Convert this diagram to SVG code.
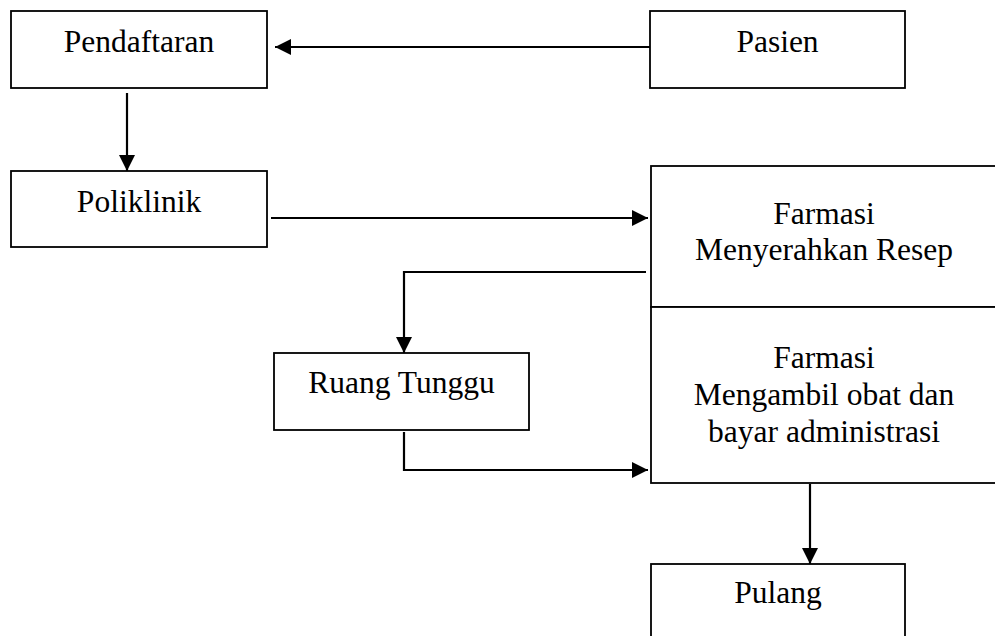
<svg xmlns="http://www.w3.org/2000/svg" width="995" height="636" viewBox="0 0 995 636">
<style>
.box{fill:#fff;stroke:#000;stroke-width:1.8}
.lbl{font-family:"Liberation Serif","Times New Roman",serif;font-size:31.5px;fill:#000;text-anchor:middle}
.con{fill:none;stroke:#000;stroke-width:2.2}
</style>
<defs>
<marker id="ah" viewBox="0 0 16 16" refX="16" refY="8" markerWidth="16" markerHeight="16" markerUnits="userSpaceOnUse" orient="auto">
<path d="M0,0 L16,8 L0,16 Z" fill="#000"/>
</marker>
</defs>
<rect width="995" height="636" fill="#fff"/>
<g id="connectors">
<path class="con" d="M650,47 L275,47" marker-end="url(#ah)"/>
<path class="con" d="M127,93 L127,171" marker-end="url(#ah)"/>
<path class="con" d="M271,218 L648,218" marker-end="url(#ah)"/>
<path class="con" d="M646,272 L404,272 L404,353" marker-end="url(#ah)"/>
<path class="con" d="M404,432 L404,470 L648,470" marker-end="url(#ah)"/>
<path class="con" d="M810,484 L810,564" marker-end="url(#ah)"/>
</g>
<g id="pendaftaran">
<rect class="box" x="11" y="11" width="256" height="77"/>
<text class="lbl" x="139" y="52">Pendaftaran</text>
</g>
<g id="pasien">
<rect class="box" x="650" y="11" width="255" height="77"/>
<text class="lbl" x="777.5" y="52">Pasien</text>
</g>
<g id="poliklinik">
<rect class="box" x="11" y="171" width="256" height="76"/>
<text class="lbl" x="139" y="212">Poliklinik</text>
</g>
<g id="farmasi-resep">
<rect class="box" x="651" y="166" width="360" height="141"/>
<text class="lbl" x="824" y="224">Farmasi</text>
<text class="lbl" x="824" y="260">Menyerahkan Resep</text>
</g>
<g id="farmasi-obat">
<rect class="box" x="651" y="307" width="360" height="176"/>
<text class="lbl" x="824" y="368">Farmasi</text>
<text class="lbl" x="824" y="405">Mengambil obat dan</text>
<text class="lbl" x="824" y="442">bayar administrasi</text>
</g>
<g id="ruang-tunggu">
<rect class="box" x="274" y="353" width="255" height="77"/>
<text class="lbl" x="401.5" y="393">Ruang Tunggu</text>
</g>
<g id="pulang">
<rect class="box" x="651" y="564" width="254" height="90"/>
<text class="lbl" x="778" y="603">Pulang</text>
</g>
</svg>
